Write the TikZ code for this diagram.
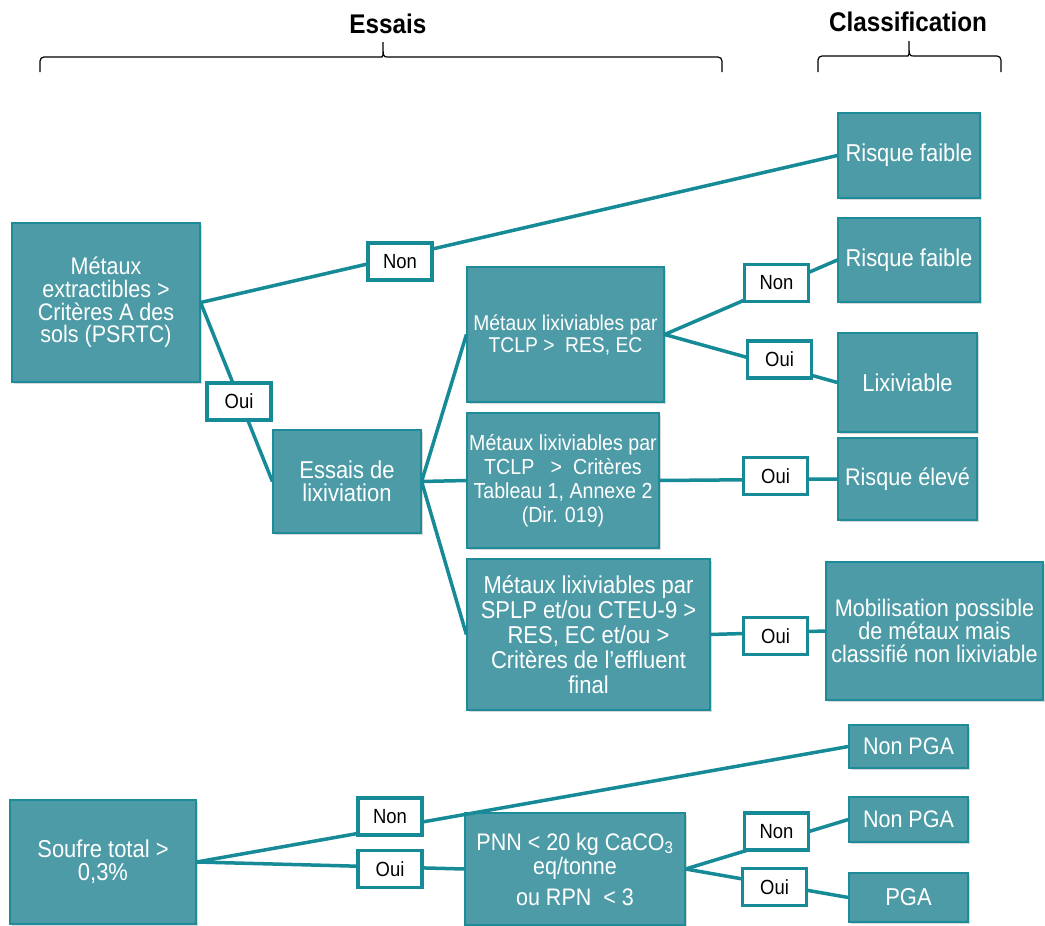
\documentclass[tikz,border=0pt]{standalone}
\usepackage{fontspec}
\setmainfont{Liberation Sans}[FakeStretch=0.9]
\usetikzlibrary{shadows}
\definecolor{boxfill}{RGB}{77,155,166}
\definecolor{boxline}{RGB}{30,140,152}
\definecolor{tealline}{RGB}{22,138,150}
\newcommand{\fsz}[2]{\fontsize{#1}{#2}\selectfont}
\begin{document}
\begin{tikzpicture}[x=1pt,y=-1pt,
  box/.style={rectangle, fill=boxfill, draw=boxline, line width=1.2pt, text=white, align=center, inner sep=0pt,
    drop shadow={shadow xshift=1.5pt, shadow yshift=-1.5pt, opacity=0.3}},
  lab/.style={rectangle, fill=white, draw=tealline, line width=3.5pt, minimum width=64pt, minimum height=37pt, inner sep=0pt, font=\fsz{20.5}{22}},
  cline/.style={draw=tealline, line width=3.5pt},
  brc/.style={line width=1.2pt, draw=black},
  hdr/.style={font=\bfseries\fsz{27}{30}}]
\useasboundingbox[fill=white] (0,0) rectangle (1045,926);

% headers and braces
\node[hdr] (h1) at (388,24) {Essais};
\node[hdr] (h2) at (908,22) {Classification};
\draw[brc] (40,72) [rounded corners=4pt] |- (378,57) [sharp corners] .. controls (383,57) .. (383,42) .. controls (383,57) .. (388,57) [rounded corners=4pt] -| (722,72);
\draw[brc] (818,72) [rounded corners=4pt] |- (904,56) [sharp corners] .. controls (909,56) .. (909,41) .. controls (909,56) .. (914,56) [rounded corners=4pt] -| (1001,72);

% boxes
\node[box, minimum width=188, minimum height=159, font=\fsz{23.9}{22.7}] (A) at (106,302.5) {Métaux\\extractibles >\\Critères A des\\sols (PSRTC)};
\node[box, minimum width=148, minimum height=103, font=\fsz{24.4}{22.7}] (E) at (347,481.5) {Essais de\\lixiviation};
\node[box, minimum width=197, minimum height=135, font=\fsz{21.4}{22}] (T1) at (565.5,334.5) {Métaux lixiviables par\\TCLP >\ \ RES, EC};
\node[box, minimum width=192, minimum height=135, font=\fsz{21.8}{24}] (T2) at (563,480.5) {Métaux lixiviables par\\TCLP\ \ \ >\ \ Critères\\Tableau 1, Annexe 2\\(Dir. 019)};
\node[box, minimum width=243, minimum height=151, font=\fsz{24.4}{25}] (T3) at (588.5,634.5) {Métaux lixiviables par\\SPLP et/ou CTEU-9 >\\RES, EC et/ou >\\Critères de l’effluent\\final};
\node[box, minimum width=142, minimum height=85, font=\fsz{24.4}{26}] (RF1) at (909,155.5) {Risque faible};
\node[box, minimum width=142, minimum height=84, font=\fsz{24.4}{26}] (RF2) at (909,260) {Risque faible};
\node[box, minimum width=139, minimum height=99, font=\fsz{24.4}{26}] (LX) at (907.5,382.5) {Lixiviable};
\node[box, minimum width=139, minimum height=82, font=\fsz{24}{26}] (RE) at (907.5,479) {Risque élevé};
\node[box, minimum width=217, minimum height=138, font=\fsz{24}{22.7}] (MB) at (934.5,631) {Mobilisation possible\\de métaux mais\\classifié non lixiviable};
\node[box, minimum width=186, minimum height=124, font=\fsz{24.4}{23}] (S) at (103,862) {Soufre total >\\0,3\%};
\node[box, minimum width=220, minimum height=112, font=\fsz{23.9}{24}] (P) at (575,869) {PNN < 20 kg CaCO\textsubscript{3}\\eq/tonne\\[7pt]ou RPN\ \ < 3};
\node[box, minimum width=119, minimum height=43, font=\fsz{23.9}{26}] (N1) at (908.5,746.5) {Non PGA};
\node[box, minimum width=119, minimum height=45, font=\fsz{23.9}{26}] (N2) at (908.5,819.5) {Non PGA};
\node[box, minimum width=119, minimum height=49, font=\fsz{24.4}{26}] (PG) at (908.5,897.5) {PGA};

% connectors
\draw[cline] (A.east) -- (RF1.west);
\draw[cline] (A.east) -- (E.west);
\draw[cline] (E.east) -- (T1.west);
\draw[cline] (E.east) -- (T2.west);
\draw[cline] (E.east) -- (T3.west);
\draw[cline] (T1.east) -- (RF2.west);
\draw[cline] (T1.east) -- (LX.west);
\draw[cline] (T2.east) -- (RE.west);
\draw[cline] (T3.east) -- (MB.west);
\draw[cline] (S.east) -- (N1.west);
\draw[cline] (S.east) -- (P.west);
\draw[cline] (P.east) -- (N2.west);
\draw[cline] (P.east) -- (PG.west);

% labels
\node[lab] (l1) at (400,261.5) {Non};
\node[lab] (l2) at (239,401.5) {Oui};
\node[lab] (l3) at (776.5,283) {Non};
\node[lab] (l4) at (779.5,359.5) {Oui};
\node[lab] (l5) at (775.5,476) {Oui};
\node[lab] (l6) at (775.5,636) {Oui};
\node[lab] (l7) at (390,816.5) {Non};
\node[lab] (l8) at (390,869) {Oui};
\node[lab] (l9) at (776.5,831.5) {Non};
\node[lab] (l10) at (774.5,887) {Oui};
\end{tikzpicture}
\end{document}
